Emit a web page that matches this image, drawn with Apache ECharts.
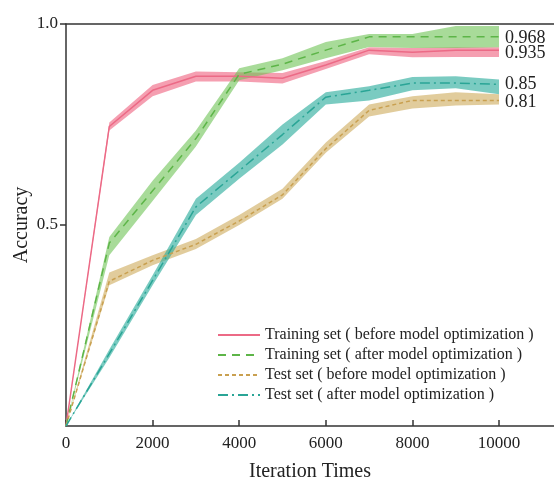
<!DOCTYPE html>
<html>
<head>
<meta charset="utf-8">
<script src="https://cdn.jsdelivr.net/npm/echarts@6/dist/echarts.min.js"></script>
<style>
  html, body { margin: 0; padding: 0; background: #fff; }
  #chart { width: 554px; height: 482px; }
</style>
</head>
<body>
<div id="chart"></div>
<script>
// Iterations at which accuracy was recorded
const iterations = [0, 1000, 2000, 3000, 4000, 5000, 6000, 7000, 8000, 9000, 10000];
const xTicks = [0, 2000, 4000, 6000, 8000, 10000];
const yTicks = [0.5, 1.0];

// Training set, before model optimization
const trainBefore   = [0, 0.745, 0.835, 0.870, 0.870, 0.865, 0.898, 0.935, 0.930, 0.935, 0.935];
const trainBeforeHi = [0, 0.755, 0.848, 0.882, 0.880, 0.878, 0.908, 0.942, 0.940, 0.942, 0.942];
const trainBeforeLo = [0, 0.735, 0.820, 0.857, 0.857, 0.852, 0.888, 0.925, 0.917, 0.918, 0.918];

// Training set, after model optimization
const trainAfter   = [0, 0.455, 0.585, 0.715, 0.875, 0.900, 0.935, 0.968, 0.968, 0.968, 0.968];
const trainAfterHi = [0, 0.470, 0.610, 0.735, 0.890, 0.915, 0.955, 0.975, 0.975, 0.995, 0.995];
const trainAfterLo = [0, 0.425, 0.560, 0.695, 0.860, 0.885, 0.915, 0.943, 0.940, 0.940, 0.942];

// Test set, before model optimization
const testBefore   = [0, 0.360, 0.412, 0.452, 0.510, 0.575, 0.690, 0.785, 0.810, 0.810, 0.810];
const testBeforeHi = [0, 0.382, 0.425, 0.465, 0.525, 0.590, 0.705, 0.800, 0.820, 0.830, 0.825];
const testBeforeLo = [0, 0.350, 0.400, 0.440, 0.500, 0.565, 0.680, 0.770, 0.790, 0.797, 0.800];

// Test set, after model optimization
const testAfter   = [0, 0.180, 0.362, 0.545, 0.635, 0.725, 0.818, 0.835, 0.853, 0.853, 0.850];
const testAfterHi = [0, 0.190, 0.375, 0.565, 0.655, 0.750, 0.830, 0.845, 0.868, 0.870, 0.862];
const testAfterLo = [0, 0.170, 0.350, 0.525, 0.615, 0.700, 0.800, 0.810, 0.835, 0.840, 0.825];

const seriesNames = [
  'Training set ( before model optimization )',
  'Training set ( after model optimization )',
  'Test set ( before model optimization )',
  'Test set ( after model optimization )'
];

const FONT = '"Liberation Serif", "Times New Roman", serif';
const TEXT = '#222';
const AXIS = '#333';

// Translucent band between lower and upper bound, drawn as one polygon
function band(lo, hi, fill) {
  return {
    type: 'custom',
    silent: true,
    z: 1,
    data: iterations.map((x, i) => [x, lo[i], hi[i]]),
    encode: { x: 0, y: [1, 2] },
    renderItem: function (params, api) {
      if (params.dataIndex !== 0) return;
      const pts = [];
      for (let i = 0; i < iterations.length; i++) pts.push(api.coord([iterations[i], hi[i]]));
      for (let i = iterations.length - 1; i >= 0; i--) pts.push(api.coord([iterations[i], lo[i]]));
      return { type: 'polygon', shape: { points: pts }, style: { fill: fill } };
    }
  };
}

// Mean curve with its final value written at the right end
function line(name, values, color, type, labelShift) {
  return {
    name: name,
    type: 'line',
    z: 3,
    symbol: 'none',
    data: iterations.map((x, i) => [x, values[i]]),
    lineStyle: { color: color, width: 1.5, type: type },
    itemStyle: { color: color },
    endLabel: {
      show: true,
      distance: 6,
      offset: [0, labelShift],
      formatter: p => String(p.value[1]),
      fontFamily: FONT,
      fontSize: 18,
      color: TEXT
    }
  };
}

const chart = echarts.init(document.getElementById('chart'), null, { renderer: 'canvas' });
chart.setOption({
  animation: false,
  backgroundColor: '#fff',
  grid: { left: 66, top: 24, right: 0, bottom: 56, containLabel: false, outerBoundsMode: 'none' },
  legend: {
    data: seriesNames,
    orient: 'vertical',
    left: 212,
    top: 322,
    itemWidth: 42,
    itemHeight: 10,
    itemGap: 4,
    itemStyle: { opacity: 0 },
    textStyle: { fontFamily: FONT, fontSize: 16, color: TEXT }
  },
  xAxis: [{
    type: 'value',
    min: 0,
    max: 11270,
    name: 'Iteration Times',
    nameLocation: 'middle',
    nameGap: 36,
    nameTextStyle: { fontFamily: FONT, fontSize: 20, color: TEXT },
    splitLine: { show: false },
    axisLine: { lineStyle: { color: AXIS, width: 1.5 } },
    axisTick: { inside: true, length: 6, customValues: xTicks, lineStyle: { color: AXIS, width: 1.5 } },
    axisLabel: {
      customValues: xTicks,
      margin: 9,
      formatter: v => String(v),
      fontFamily: FONT, fontSize: 17, color: TEXT
    }
  }, {
    type: 'value',
    position: 'top',
    min: 0,
    max: 11270,
    splitLine: { show: false },
    axisLine: { show: true, lineStyle: { color: AXIS, width: 1.5 } },
    axisTick: { show: false },
    axisLabel: { show: false }
  }],
  yAxis: {
    type: 'value',
    min: 0,
    max: 1,
    name: 'Accuracy',
    nameLocation: 'middle',
    nameGap: 34,
    nameMoveOverlap: false,
    nameTextStyle: { fontFamily: FONT, fontSize: 20, color: TEXT },
    splitLine: { show: false },
    axisLine: { show: true, lineStyle: { color: AXIS, width: 1.5 } },
    axisTick: { show: true, length: 6, customValues: yTicks, lineStyle: { color: AXIS, width: 1.5 } },
    axisLabel: {
      customValues: yTicks,
      margin: 8,
      formatter: v => v.toFixed(1),
      fontFamily: FONT, fontSize: 17, color: TEXT
    }
  },
  series: [
    band(trainBeforeLo, trainBeforeHi, 'rgba(238, 95, 125, 0.6)'),
    band(trainAfterLo, trainAfterHi, 'rgba(110, 195, 85, 0.6)'),
    band(testBeforeLo, testBeforeHi, 'rgba(205, 170, 90, 0.6)'),
    band(testAfterLo, testAfterHi, 'rgba(50, 175, 160, 0.65)'),
    line(seriesNames[0], trainBefore, '#EC6A86', 'solid', 3),
    line(seriesNames[1], trainAfter, '#5DB548', [8, 6], 1),
    line(seriesNames[2], testBefore, '#C9A050', [4, 3], 2),
    line(seriesNames[3], testAfter, '#2AA596', [10, 4, 2, 4], 0)
  ]
});
</script>
</body>
</html>
